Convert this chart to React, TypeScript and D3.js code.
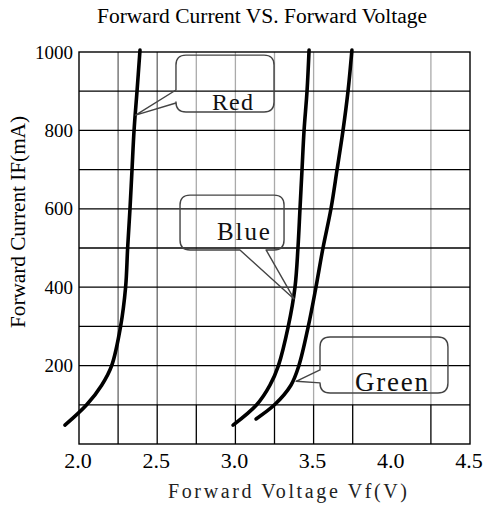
import React, { useEffect, useRef } from "react";
import * as d3 from "d3";

// forward current (mA) sampled along each curve
const currentRed = [48, 100, 150, 200, 300, 400, 500, 600, 700, 800, 900, 1005];
const voltageRed = [1.91, 2.049, 2.145, 2.209, 2.266, 2.298, 2.311, 2.326, 2.339, 2.352, 2.371, 2.39];

const currentBlue = [48, 100, 150, 200, 300, 400, 500, 600, 700, 800, 900, 1005];
const voltageBlue = [2.985, 3.136, 3.221, 3.275, 3.338, 3.381, 3.4, 3.413, 3.426, 3.439, 3.458, 3.471];

const currentGreen = [64, 100, 150, 200, 300, 400, 500, 600, 700, 800, 900, 1005];
const voltageGreen = [3.132, 3.25, 3.355, 3.406, 3.466, 3.515, 3.56, 3.611, 3.65, 3.688, 3.72, 3.745];

const xTicks = [2.0, 2.5, 3.0, 3.5, 4.0, 4.5];
const xGrid = [2.25, 2.5, 2.75, 3.0, 3.25, 3.5, 3.75, 4.25];
const yTicks = [200, 400, 600, 800, 1000];
const yGrid = [100, 200, 300, 400, 500, 600, 700, 800, 900];

const seriesLabels = ["Red", "Blue", "Green"];

export default function App() {
  const ref = useRef<SVGSVGElement>(null);

  useEffect(() => {
    draw(ref.current);
  }, []);

  return (
    <svg
      ref={ref}
      width={483}
      height={508}
      style={{ position: "absolute", left: 0, top: 0, background: "#fff" }}
    />
  );
}

function draw(node: SVGSVGElement | null) {
  if (!node) return;
  const svg = d3.select(node);
  svg.selectAll("*").remove();

  const x = d3.scaleLinear().domain([2.0, 4.5]).range([79, 470]);
  const y = d3.scaleLinear().domain([0, 1000]).range([444, 52]);

  const serif = "'Liberation Serif', 'DejaVu Serif', serif";

  // vertical grid: grey above 100mA, black below
  const vg = svg.append("g");
  xGrid.forEach((v) => {
    vg.append("line")
      .attr("x1", x(v)).attr("x2", x(v))
      .attr("y1", y(1000)).attr("y2", y(100))
      .attr("stroke", v <= 2.5 ? "#666" : "#aaa")
      .attr("stroke-width", 1.3);
    vg.append("line")
      .attr("x1", x(v)).attr("x2", x(v))
      .attr("y1", y(100)).attr("y2", y(0))
      .attr("stroke", "#000")
      .attr("stroke-width", 1.3);
  });

  svg.append("g")
    .selectAll("line")
    .data(yGrid)
    .enter().append("line")
    .attr("x1", x(2)).attr("x2", x(4.5))
    .attr("y1", (d) => y(d)).attr("y2", (d) => y(d))
    .attr("stroke", "#000")
    .attr("stroke-width", 1.3);

  svg.append("rect")
    .attr("x", x(2)).attr("y", y(1000))
    .attr("width", x(4.5) - x(2)).attr("height", y(0) - y(1000))
    .attr("fill", "none")
    .attr("stroke", "#000")
    .attr("stroke-width", 1.4);

  // curves
  const line = d3.line<[number, number]>()
    .x((d) => x(d[0]))
    .y((d) => y(d[1]))
    .curve(d3.curveCatmullRom.alpha(0.5));

  const series = [
    d3.zip(voltageRed, currentRed),
    d3.zip(voltageBlue, currentBlue),
    d3.zip(voltageGreen, currentGreen),
  ] as [number, number][][];

  svg.append("g")
    .selectAll("path")
    .data(series)
    .enter().append("path")
    .attr("d", (d) => line(d))
    .attr("fill", "none")
    .attr("stroke", "#000")
    .attr("stroke-width", 3.6)
    .attr("stroke-linecap", "round");

  // speech-bubble callouts, in data units
  const callouts = [
    { box: [2.62, 3.247, 992, 847], side: "left", base: [903, 870], tip: [2.362, 839], text: [2.85, 852], len: 41, size: 24 },
    { box: [2.646, 3.311, 635, 495], side: "bottom", base: [3.029, 3.196], tip: [3.375, 370], text: [2.882, 520], len: 53, size: 25 },
    { box: [3.541, 4.359, 273, 130], side: "left", base: [189, 156], tip: [3.388, 160], text: [3.765, 135], len: 73, size: 27 },
  ];

  const r = 10;
  callouts.forEach((c, i) => {
    const x0 = x(c.box[0]), x1 = x(c.box[1]);
    const y0 = y(c.box[2]), y1 = y(c.box[3]);
    const tx = x(c.tip[0]), ty = y(c.tip[1]);
    let d = `M${x0 + r},${y0} H${x1 - r} Q${x1},${y0} ${x1},${y0 + r} V${y1 - r} Q${x1},${y1} ${x1 - r},${y1}`;
    if (c.side === "bottom") {
      d += ` H${x(c.base[1])} L${tx},${ty} L${x(c.base[0])},${y1} H${x0 + r}`;
      d += ` Q${x0},${y1} ${x0},${y1 - r} V${y0 + r} Q${x0},${y0} ${x0 + r},${y0} Z`;
    } else {
      d += ` H${x0 + r} Q${x0},${y1} ${x0},${y1 - r} V${y(c.base[1])} L${tx},${ty} L${x0},${y(c.base[0])}`;
      d += ` V${y0 + r} Q${x0},${y0} ${x0 + r},${y0} Z`;
    }
    svg.append("path")
      .attr("d", d)
      .attr("fill", "none")
      .attr("stroke", "#444")
      .attr("stroke-width", 1.4)
      .attr("stroke-linejoin", "round");

    svg.append("text")
      .attr("x", x(c.text[0]))
      .attr("y", y(c.text[1]))
      .attr("font-family", serif)
      .attr("font-size", c.size)
      .attr("textLength", c.len)
      .attr("lengthAdjust", "spacing")
      .attr("fill", "#111")
      .text(seriesLabels[i]);
  });

  // tick labels
  svg.append("g")
    .selectAll("text")
    .data(yTicks)
    .enter().append("text")
    .attr("x", 73)
    .attr("y", (d) => y(d) + 6.5)
    .attr("text-anchor", "end")
    .attr("font-family", serif)
    .attr("font-size", 19)
    .attr("fill", "#000")
    .text((d) => d);

  svg.append("g")
    .selectAll("text")
    .data(xTicks)
    .enter().append("text")
    .attr("x", (d) => x(d) - 1)
    .attr("y", 468)
    .attr("text-anchor", "middle")
    .attr("font-family", serif)
    .attr("font-size", 22)
    .attr("fill", "#000")
    .text((d) => d3.format(".1f")(d));

  svg.append("text")
    .attr("x", 262)
    .attr("y", 23)
    .attr("text-anchor", "middle")
    .attr("font-family", serif)
    .attr("font-size", 20)
    .attr("textLength", 330)
    .attr("lengthAdjust", "spacingAndGlyphs")
    .text("Forward Current VS. Forward Voltage");

  svg.append("text")
    .attr("transform", "translate(25,222) rotate(-90)")
    .attr("text-anchor", "middle")
    .attr("font-family", serif)
    .attr("font-size", 20)
    .attr("textLength", 212)
    .attr("lengthAdjust", "spacingAndGlyphs")
    .text("Forward Current IF(mA)");

  svg.append("text")
    .attr("x", 287.5)
    .attr("y", 498)
    .attr("text-anchor", "middle")
    .attr("font-family", serif)
    .attr("font-size", 20)
    .attr("textLength", 239)
    .attr("lengthAdjust", "spacing")
    .attr("fill", "#222")
    .text("Forward Voltage Vf(V)");
}
